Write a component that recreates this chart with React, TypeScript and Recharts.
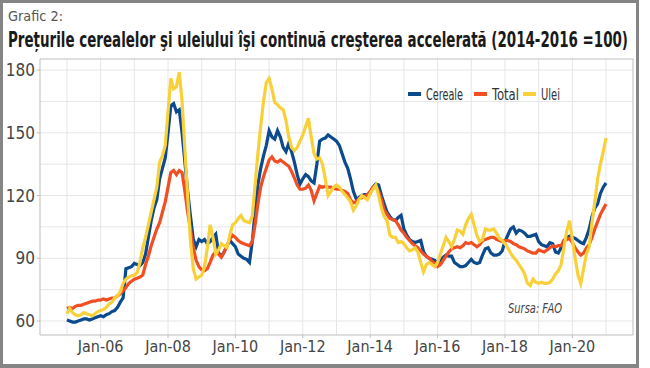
import React from "react";
import { LineChart, Line, XAxis, YAxis, CartesianGrid, ReferenceArea } from "recharts";

// monthly values, Jan 2005 .. Jan 2021 (2014-2016 = 100)
const START_YEAR = 2005;

const cereale = [
  60.5, 60, 59.5, 59.5, 60, 60.5, 61, 61, 60.5, 61, 61.5, 62,
  62.5, 62, 63, 63.5, 64.5, 65, 66.5, 69, 71, 85, 85.5, 86,
  87.5, 87, 86.5, 88, 92, 100, 108, 114, 118, 128, 133, 138,
  150, 163, 164, 160, 161, 150, 136, 122, 110, 99, 95.5, 99,
  98, 99, 97, 98, 100, 101.5, 92.5, 91, 93, 96, 98.5, 97,
  95.5, 92, 91, 90, 89.5, 88, 98, 112, 125, 133, 139, 144,
  151, 148, 147, 151, 148, 143, 141, 145, 141, 136, 130, 125.5,
  128, 130, 129, 127, 126, 135, 146, 147, 147.5, 149, 148, 147,
  146, 144, 140, 136, 133, 128, 122, 118.5, 119, 120, 120.5, 120.5,
  121, 124, 125.5, 125, 120, 116, 112, 110, 108.5, 108, 109.5, 110.5,
  104, 101, 99, 98, 97.5, 98, 98.5, 93, 91, 90, 89.5, 89,
  87.5, 88.5, 90.5, 91.5, 91, 91, 88, 87, 86, 86, 86.5, 88,
  89.5, 88, 87.5, 88, 91.5, 94.5, 95, 92.5, 91.5, 91.5, 92, 93.5,
  98, 101, 104, 105, 102, 103.5, 103, 102, 100.5, 100.5, 101, 101.5,
  98, 96.5, 96, 95.5, 97.5, 97, 93, 92.5, 95, 98.5, 100, 100.5,
  100, 99.5, 98.5, 97.5, 97, 100, 104, 110, 114, 116, 121, 124,
  126,
];

const total = [
  66, 66.5, 66, 67, 67.5, 67.5, 68, 68.5, 69, 69.5, 69.5, 70,
  70, 70.5, 70, 70.5, 71, 71, 72, 73, 74.5, 76, 78, 79,
  80, 80.5, 81, 82, 87, 91, 96, 100, 104, 107, 112, 117,
  124, 131, 132, 130, 132, 131, 122, 112, 104, 95, 89, 86,
  84.5, 84, 85, 88, 91.5, 93, 92, 90.5, 93, 96, 99, 101,
  100, 98.5, 97.5, 97, 96.5, 96, 98, 106, 116, 124, 129, 133,
  137, 138.5, 136.5, 136, 137, 136, 135, 134, 131.5, 128.5, 125, 123,
  123, 123.5, 125, 122.5, 117.5, 121, 124.5, 124, 124.5, 124, 124, 123.5,
  123, 123, 122.5, 122, 121, 118, 116.5, 117, 118.5, 119, 119.5, 120.5,
  122, 124, 124.5, 122, 118, 113, 111, 109, 108.5, 108, 106, 103.5,
  102, 100, 98.5, 97, 96, 95, 93.5, 92, 91, 90, 88.5, 87.5,
  86, 87, 89, 91, 93, 94.5, 95, 95.5, 95, 96, 97.5, 97,
  97.5, 96.5, 95.5, 96.5, 98.5, 99, 99.5, 100, 100, 99, 98.5, 98,
  98.5, 98.5, 98, 97, 96.5, 95.5, 95, 94.5, 93.5, 93, 92.5, 92.5,
  94, 93.5, 93, 94, 95, 96, 95.5, 96, 96, 98.5, 99, 99.5,
  97.5, 95, 93, 91.5, 92.5, 95, 96.5, 100, 104, 107.5, 111, 113.5,
  116,
];

const ulei = [
  63.5, 66, 64, 63, 62.5, 63, 64, 63.5, 63, 62.5, 63.5, 64.5,
  65, 65.5, 66.5, 68, 69, 71, 72, 74, 78, 80, 81, 81.5,
  82, 83, 88, 95, 100, 106, 112, 118, 124, 136, 139, 144,
  160, 176, 171, 172, 179, 165, 142, 120, 98, 85, 80, 81,
  82, 86, 95, 106, 100, 92, 94, 97, 96, 95, 101, 106,
  107, 109, 110.5, 108, 107.5, 107, 110, 125, 140, 153, 165, 174,
  176, 171, 164.5, 163.5, 162, 161, 156, 148, 143, 141.5, 143, 146,
  149, 153, 157, 148, 140, 137.5, 138, 135, 128, 120, 122, 124,
  125, 124, 122, 120.5, 119, 117, 113, 115, 118, 120, 119, 118,
  121, 123, 125, 120, 114, 110, 108, 101, 100, 100, 97.5, 98,
  97, 95, 93.5, 94, 95, 93, 88, 83.5, 87, 88, 87, 86,
  88, 92, 96, 100, 98, 95.5, 99, 103.5, 103, 101.5, 106, 109,
  111, 106, 101, 98, 99, 104, 103.5, 103.5, 104, 102, 99.5, 98.5,
  97, 95, 92.5, 90.5, 89, 87, 85, 82.5, 78, 77, 80, 78.5,
  78, 78.5, 78, 78, 78.5, 80, 82.5, 84, 87, 95, 103, 108,
  99, 90, 82, 78, 85, 92, 95.5, 107, 117, 128, 135, 141,
  147.5,
];

const xTicks = [2006, 2008, 2010, 2012, 2014, 2016, 2018, 2020];
const xTickLabels = ["Jan-06", "Jan-08", "Jan-10", "Jan-12", "Jan-14", "Jan-16", "Jan-18", "Jan-20"];
const yTicks = [60, 90, 120, 150, 180];
const xGrid = [2005, 2006, 2007, 2008, 2009, 2010, 2011, 2012, 2013, 2014, 2015, 2016, 2017, 2018, 2019, 2020, 2021];
const yGrid = [60, 75, 90, 105, 120, 135, 150, 165, 180];

const X_DOMAIN: [number, number] = [2004.2, 2021.8];
const Y_DOMAIN: [number, number] = [53.3, 185.3];

const BLUE = "#0b4a8c";
const RED = "#f04e23";
const YELLOW = "#f8d13a";
const GRID = "#e6e6e6";
const FRAME = "#bdbdbd";
const TXT = "#444";
const FONT = "'Liberation Sans Narrow', 'DejaVu Sans Condensed', 'Arial Narrow', sans-serif";

const series = [
  { key: "cereale", name: "Cereale", color: BLUE, legendX: 408, textW: 37 },
  { key: "total", name: "Total", color: RED, legendX: 474, textW: 27 },
  { key: "ulei", name: "Ulei", color: YELLOW, legendX: 523, textW: 19 },
];

const data = cereale.map((c, i) => ({
  t: START_YEAR + i / 12,
  cereale: c,
  total: total[i],
  ulei: ulei[i],
}));

const fmtX = (v: number) => xTickLabels[xTicks.indexOf(v)] ?? "";

export default function App() {
  return (
    <div style={{ position: "relative", width: 650, height: 368, background: "#fff" }}>
      <style>{`body{margin:0}`}</style>

      {/* outer frame */}
      <div
        style={{
          position: "absolute", left: 0, top: 0, width: 639, height: 368,
          boxSizing: "border-box", border: "3px solid #858585", borderBottomWidth: 4,
        }}
      />

      <div style={{ position: "absolute", left: 0, top: 0 }}>
        <LineChart width={650} height={368} data={data} margin={{ top: 59, right: 17, bottom: 3, left: 0 }}>
          <CartesianGrid
            stroke={GRID}
            strokeWidth={1}
            verticalValues={xGrid}
            horizontalValues={yGrid}
          />
          <ReferenceArea
            x1={X_DOMAIN[0]} x2={X_DOMAIN[1]} y1={Y_DOMAIN[0]} y2={Y_DOMAIN[1]}
            fill="none" stroke={FRAME} strokeWidth={1} fillOpacity={0}
          />
          <XAxis
            dataKey="t" type="number" domain={X_DOMAIN} ticks={xTicks}
            tickFormatter={fmtX} allowDataOverflow
            height={30} tickSize={3} tickMargin={3}
            axisLine={false} tickLine={{ stroke: FRAME }}
            tick={{ fontSize: 16, fill: TXT, fontFamily: FONT }}
          />
          <YAxis
            type="number" domain={Y_DOMAIN} ticks={yTicks} allowDataOverflow
            width={40} tickSize={3} tickMargin={2}
            axisLine={false} tickLine={{ stroke: FRAME }}
            tick={{ fontSize: 17, fill: TXT, fontFamily: FONT }}
          />
          {series.map((s) => (
            <Line
              key={s.key}
              dataKey={s.key}
              name={s.name}
              type="linear"
              stroke={s.color}
              strokeWidth={3.2}
              dot={false}
              isAnimationActive={false}
            />
          ))}
        </LineChart>
      </div>

      {/* titles, legend and source */}
      <svg width={650} height={368} style={{ position: "absolute", left: 0, top: 0, pointerEvents: "none" }}>
        <text x={8} y={21} fontFamily={FONT} fontSize={14} fill="#555" textLength={55} lengthAdjust="spacingAndGlyphs">
          Grafic 2:
        </text>
        <g transform="translate(8,47) scale(1,1.45)">
          <text x={0} y={0} fontFamily={FONT} fontSize={15} fontWeight="bold" fill="#1a1a1a" textLength={620} lengthAdjust="spacingAndGlyphs">
            Prețurile cerealelor şi uleiului îşi continuă creşterea accelerată (2014-2016 =100)
          </text>
        </g>
        {series.map((s) => (
          <g key={s.key}>
            <line x1={s.legendX} x2={s.legendX + 13} y1={94} y2={94} stroke={s.color} strokeWidth={4} />
            <text
              x={s.legendX + 18} y={100} fontFamily={FONT} fontSize={16} fill="#333"
              textLength={s.textW} lengthAdjust="spacingAndGlyphs"
            >
              {s.name}
            </text>
          </g>
        ))}
        <text x={508} y={313} fontFamily={FONT} fontSize={14} fontStyle="italic" fill={TXT} textLength={54} lengthAdjust="spacingAndGlyphs">
          Sursa: FAO
        </text>
      </svg>
    </div>
  );
}
